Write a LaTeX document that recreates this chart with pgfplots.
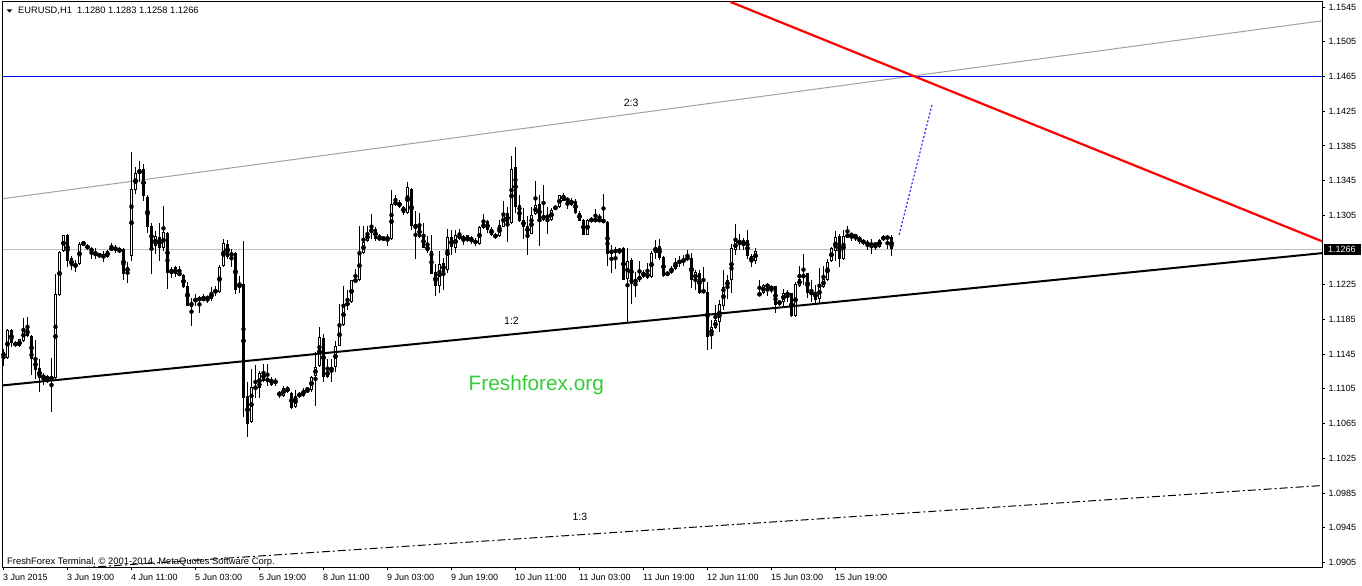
\documentclass[border=0pt]{standalone}
\usepackage{pgfplots}
\pgfplotsset{compat=1.18}
\usepackage{pgfplotstable}
\usepackage{fontspec}
\setmainfont{Liberation Sans}

\definecolor{chgray}{RGB}{160,160,160}
\definecolor{bidline}{RGB}{192,192,192}
\definecolor{limegreen}{RGB}{50,205,50}

% EURUSD H1 bars, index 0 = 3 Jun 2015 03:00
\pgfplotstableread{
i o h l c
0 1.1148 1.1151 1.1132 1.1141
1 1.1141 1.1174 1.1139 1.1173
2 1.1173 1.1174 1.1153 1.1158
3 1.1157 1.1160 1.1153 1.1156
4 1.1154 1.1163 1.1153 1.1162
5 1.1160 1.1187 1.1159 1.1174
6 1.1175 1.1188 1.1165 1.1166
7 1.1166 1.1167 1.1121 1.1139
8 1.1139 1.1162 1.1117 1.1127
9 1.1129 1.1140 1.1102 1.1118
10 1.1118 1.1123 1.1110 1.1120
11 1.1120 1.1121 1.1112 1.1115
12 1.1115 1.1141 1.1078 1.1120
13 1.1117 1.1237 1.1116 1.1214
14 1.1213 1.1264 1.1212 1.1263
15 1.1264 1.1283 1.1263 1.1282
16 1.1283 1.1284 1.1246 1.1253
17 1.1256 1.1258 1.1242 1.1247
18 1.1246 1.1254 1.1240 1.1249
19 1.1249 1.1274 1.1248 1.1272
20 1.1272 1.1276 1.1270 1.1273
21 1.1271 1.1272 1.1265 1.1266
22 1.1267 1.1269 1.1255 1.1263
23 1.1263 1.1268 1.1255 1.1258
24 1.1260 1.1262 1.1256 1.1258
25 1.1260 1.1264 1.1251 1.1257
26 1.1257 1.1265 1.1256 1.1264
27 1.1265 1.1273 1.1264 1.1268
28 1.1268 1.1271 1.1262 1.1265
29 1.1265 1.1268 1.1262 1.1264
30 1.1266 1.1267 1.1231 1.1237
31 1.1239 1.1251 1.1227 1.1246
32 1.1258 1.1378 1.1252 1.1335
33 1.1334 1.1361 1.1330 1.1354
34 1.1354 1.1368 1.1344 1.1356
35 1.1358 1.1364 1.1321 1.1327
36 1.1326 1.1329 1.1285 1.1292
37 1.1293 1.1296 1.1237 1.1269
38 1.1270 1.1287 1.1260 1.1281
39 1.1280 1.1296 1.1253 1.1267
40 1.1267 1.1316 1.1264 1.1286
41 1.1285 1.1286 1.1220 1.1239
42 1.1239 1.1246 1.1233 1.1243
43 1.1245 1.1247 1.1234 1.1237
44 1.1239 1.1247 1.1235 1.1236
45 1.1236 1.1237 1.1221 1.1222
46 1.1224 1.1228 1.1200 1.1201
47 1.1200 1.1210 1.1178 1.1205
48 1.1206 1.1214 1.1200 1.1209
49 1.1208 1.1212 1.1193 1.1209
50 1.1207 1.1214 1.1206 1.1210
51 1.1211 1.1212 1.1204 1.1209
52 1.1209 1.1223 1.1206 1.1216
53 1.1216 1.1223 1.1212 1.1219
54 1.1217 1.1248 1.1216 1.1246
55 1.1247 1.1278 1.1246 1.1273
56 1.1272 1.1277 1.1255 1.1257
57 1.1258 1.1266 1.1245 1.1262
58 1.1262 1.1263 1.1215 1.1219
59 1.1221 1.1235 1.1216 1.1227
60 1.1226 1.1275 1.1073 1.1095
61 1.1097 1.1113 1.1049 1.1065
62 1.1067 1.1128 1.1066 1.1107
63 1.1106 1.1132 1.1094 1.1107
64 1.1106 1.1126 1.1094 1.1123
65 1.1125 1.1134 1.1113 1.1114
66 1.1116 1.1134 1.1109 1.1115
67 1.1117 1.1119 1.1109 1.1110
68 1.1111 1.1118 1.1109 1.1115
69 1.1102 1.1103 1.1094 1.1097
70 1.1097 1.1108 1.1096 1.1106
71 1.1107 1.1109 1.1100 1.1101
72 1.1100 1.1101 1.1082 1.1083
73 1.1084 1.1104 1.1083 1.1097
74 1.1096 1.1102 1.1095 1.1100
75 1.1097 1.1106 1.1096 1.1104
76 1.1104 1.1106 1.1100 1.1105
77 1.1104 1.1120 1.1102 1.1119
78 1.1120 1.1148 1.1085 1.1130
79 1.1131 1.1176 1.1130 1.1165
80 1.1164 1.1168 1.1113 1.1119
81 1.1119 1.1139 1.1118 1.1126
82 1.1126 1.1139 1.1113 1.1130
83 1.1130 1.1160 1.1125 1.1155
84 1.1155 1.1203 1.1154 1.1180
85 1.1179 1.1224 1.1178 1.1202
86 1.1201 1.1219 1.1196 1.1205
87 1.1205 1.1231 1.1204 1.1230
88 1.1228 1.1243 1.1227 1.1232
89 1.1231 1.1293 1.1230 1.1263
90 1.1262 1.1293 1.1261 1.1274
91 1.1275 1.1293 1.1274 1.1285
92 1.1285 1.1306 1.1278 1.1290
93 1.1289 1.1292 1.1276 1.1278
94 1.1278 1.1284 1.1276 1.1279
95 1.1278 1.1280 1.1276 1.1279
96 1.1279 1.1284 1.1270 1.1278
97 1.1278 1.1334 1.1277 1.1318
98 1.1317 1.1329 1.1316 1.1321
99 1.1320 1.1323 1.1313 1.1315
100 1.1315 1.1316 1.1306 1.1308
101 1.1308 1.1344 1.1307 1.1338
102 1.1336 1.1337 1.1288 1.1293
103 1.1295 1.1310 1.1255 1.1289
104 1.1292 1.1308 1.1279 1.1280
105 1.1282 1.1296 1.1267 1.1268
106 1.1270 1.1281 1.1262 1.1264
107 1.1264 1.1283 1.1237 1.1238
108 1.1240 1.1249 1.1212 1.1224
109 1.1224 1.1264 1.1215 1.1249
110 1.1250 1.1256 1.1219 1.1240
111 1.1242 1.1289 1.1239 1.1280
112 1.1280 1.1288 1.1259 1.1268
113 1.1267 1.1288 1.1262 1.1283
114 1.1283 1.1289 1.1277 1.1278
115 1.1281 1.1283 1.1271 1.1275
116 1.1275 1.1283 1.1274 1.1282
117 1.1280 1.1281 1.1272 1.1274
118 1.1277 1.1279 1.1270 1.1272
119 1.1272 1.1293 1.1271 1.1292
120 1.1290 1.1307 1.1289 1.1296
121 1.1298 1.1300 1.1285 1.1288
122 1.1289 1.1292 1.1281 1.1283
123 1.1283 1.1285 1.1278 1.1279
124 1.1281 1.1300 1.1280 1.1294
125 1.1292 1.1321 1.1291 1.1307
126 1.1308 1.1315 1.1274 1.1296
127 1.1296 1.1373 1.1295 1.1359
128 1.1361 1.1384 1.1308 1.1315
129 1.1317 1.1329 1.1297 1.1298
130 1.1300 1.1313 1.1278 1.1292
131 1.1293 1.1304 1.1259 1.1284
132 1.1284 1.1315 1.1283 1.1305
133 1.1306 1.1344 1.1305 1.1317
134 1.1318 1.1329 1.1270 1.1300
135 1.1300 1.1340 1.1299 1.1305
136 1.1302 1.1315 1.1284 1.1305
137 1.1300 1.1313 1.1299 1.1311
138 1.1312 1.1317 1.1311 1.1315
139 1.1315 1.1329 1.1314 1.1328
140 1.1329 1.1331 1.1321 1.1322
141 1.1322 1.1325 1.1312 1.1324
142 1.1317 1.1325 1.1316 1.1323
143 1.1322 1.1324 1.1307 1.1308
144 1.1308 1.1310 1.1298 1.1299
145 1.1300 1.1301 1.1282 1.1283
146 1.1283 1.1301 1.1282 1.1300
147 1.1299 1.1303 1.1297 1.1300
148 1.1299 1.1312 1.1297 1.1300
149 1.1300 1.1307 1.1298 1.1299
150 1.1300 1.1330 1.1296 1.1297
151 1.1297 1.1298 1.1247 1.1260
152 1.1261 1.1271 1.1239 1.1265
153 1.1265 1.1268 1.1243 1.1263
154 1.1265 1.1266 1.1261 1.1264
155 1.1267 1.1268 1.1230 1.1231
156 1.1232 1.1267 1.1182 1.1252
157 1.1254 1.1256 1.1203 1.1226
158 1.1226 1.1240 1.1211 1.1232
159 1.1230 1.1253 1.1228 1.1235
160 1.1234 1.1242 1.1233 1.1240
161 1.1239 1.1250 1.1232 1.1233
162 1.1234 1.1264 1.1233 1.1262
163 1.1262 1.1277 1.1255 1.1268
164 1.1270 1.1278 1.1254 1.1256
165 1.1257 1.1258 1.1234 1.1235
166 1.1238 1.1240 1.1236 1.1237
167 1.1239 1.1247 1.1238 1.1244
168 1.1243 1.1256 1.1242 1.1251
169 1.1250 1.1258 1.1245 1.1253
170 1.1252 1.1259 1.1247 1.1254
171 1.1255 1.1265 1.1252 1.1256
172 1.1256 1.1262 1.1221 1.1230
173 1.1230 1.1242 1.1219 1.1240
174 1.1239 1.1242 1.1214 1.1216
175 1.1217 1.1245 1.1216 1.1218
176 1.1217 1.1228 1.1150 1.1165
177 1.1166 1.1185 1.1151 1.1176
178 1.1175 1.1202 1.1174 1.1184
179 1.1182 1.1208 1.1171 1.1203
180 1.1201 1.1242 1.1196 1.1222
181 1.1223 1.1236 1.1209 1.1230
182 1.1230 1.1272 1.1216 1.1267
183 1.1265 1.1295 1.1259 1.1275
184 1.1277 1.1284 1.1265 1.1271
185 1.1270 1.1279 1.1265 1.1277
186 1.1276 1.1288 1.1255 1.1258
187 1.1258 1.1260 1.1246 1.1252
188 1.1253 1.1268 1.1249 1.1264
189 1.1215 1.1231 1.1212 1.1213
190 1.1215 1.1226 1.1214 1.1225
191 1.1226 1.1227 1.1212 1.1222
192 1.1222 1.1224 1.1215 1.1221
193 1.1223 1.1224 1.1193 1.1202
194 1.1203 1.1208 1.1201 1.1206
195 1.1205 1.1220 1.1201 1.1216
196 1.1217 1.1219 1.1205 1.1212
197 1.1215 1.1216 1.1188 1.1189
198 1.1189 1.1228 1.1188 1.1226
199 1.1224 1.1247 1.1223 1.1232
200 1.1233 1.1260 1.1225 1.1237
201 1.1238 1.1239 1.1210 1.1215
202 1.1215 1.1231 1.1205 1.1216
203 1.1217 1.1225 1.1203 1.1208
204 1.1209 1.1244 1.1204 1.1224
205 1.1222 1.1247 1.1221 1.1232
206 1.1231 1.1255 1.1230 1.1251
207 1.1252 1.1268 1.1251 1.1267
208 1.1264 1.1287 1.1252 1.1280
209 1.1281 1.1284 1.1246 1.1255
210 1.1255 1.1288 1.1254 1.1281
211 1.1282 1.1293 1.1280 1.1281
212 1.1281 1.1285 1.1276 1.1284
213 1.1282 1.1284 1.1275 1.1280
214 1.1280 1.1281 1.1272 1.1275
215 1.1275 1.1278 1.1271 1.1274
216 1.1273 1.1277 1.1265 1.1272
217 1.1272 1.1278 1.1261 1.1271
218 1.1271 1.1274 1.1265 1.1272
219 1.1269 1.1278 1.1268 1.1277
220 1.1278 1.1282 1.1275 1.1280
221 1.1279 1.1280 1.1266 1.1280
222 1.1280 1.1283 1.1258 1.1266
}\eurusd

\begin{document}
\begin{tikzpicture}
\path[use as bounding box] (0,0) rectangle (1362bp,586bp);
\begin{axis}[
  at={(2.5bp,18.5bp)}, anchor=south west,
  scale only axis, width=1320bp, height=566bp,
  xmin=-0.25, xmax=329.75, ymin=1.08992, ymax=1.15514,
  axis line style={black, line width=1bp},
  tick align=outside, major tick length=3bp,
  tick style={black, line width=1bp},
  xtick pos=bottom, ytick pos=right,
  xtick={0,16,...,208},
  xticklabels={3 Jun 2015,3 Jun 19:00,4 Jun 11:00,5 Jun 03:00,5 Jun 19:00,8 Jun 11:00,9 Jun 03:00,9 Jun 19:00,10 Jun 11:00,11 Jun 03:00,11 Jun 19:00,12 Jun 11:00,15 Jun 03:00,15 Jun 19:00},
  xticklabel style={anchor=north west, inner sep=0pt, yshift=-4bp, xshift=-0.5bp, font=\fontsize{9bp}{10bp}\selectfont},
  ytick={1.0905,1.0945,1.0985,1.1025,1.1065,1.1105,1.1145,1.1185,1.1225,1.1305,1.1345,1.1385,1.1425,1.1465,1.1505,1.1545},
  yticklabel pos=right,
  scaled y ticks=false,
  yticklabel style={anchor=west, inner sep=0pt, xshift=3bp, font=\fontsize{9bp}{10bp}\selectfont,
    /pgf/number format/.cd, fixed, fixed zerofill, precision=4, assume math mode=true},
]
% background lines
\addplot[bidline, line width=1bp] coordinates {(-0.25,1.1266) (329.75,1.1266)};
\addplot[chgray, line width=1bp] coordinates {(-0.25,1.13241) (329.75,1.15292)};
\addplot[blue, line width=1bp] coordinates {(-0.25,1.1465) (329.75,1.1465)};
% wicks
\addplot[only marks, mark=none, error bars/.cd, y dir=both, y explicit, error mark=none,
  error bar style={black, line width=1bp}]
  table[x=i, y expr={(\thisrow{h}+\thisrow{l})/2}, y error expr={(\thisrow{h}-\thisrow{l})/2}] {\eurusd};
% bodies
\addplot[only marks, mark=none, error bars/.cd, y dir=both, y explicit, error mark=none,
  error bar style={black, line width=3bp}]
  table[x=i, y expr={(\thisrow{o}+\thisrow{c})/2}, y error expr={max(abs(\thisrow{o}-\thisrow{c})/2,0.00005)}] {\eurusd};
% hollow inside of bull candles (bear candles get zero length)
\addplot[only marks, mark=none, error bars/.cd, y dir=both, y explicit, error mark=none,
  error bar style={white, line width=1bp}]
  table[x=i, y expr={(\thisrow{o}+\thisrow{c})/2},
    y error expr={max((\thisrow{c}-\thisrow{o})/2-0.000115,0)}] {\eurusd};
% trend lines
\addplot[black, line width=2bp] coordinates {(-0.25,1.11090) (329.75,1.12615)};
\addplot[black, line width=1bp, dash pattern=on 8bp off 3bp on 2bp off 3bp] coordinates {(19.7,1.08989) (329.75,1.09937)};
\addplot[red, line width=2.2bp] coordinates {(181.7,1.1551) (329.75,1.12749)};
\addplot[blue, line width=1bp, dash pattern=on 2bp off 2bp] coordinates {(223.9,1.12826) (232.2,1.14336)};
\node[font=\fontsize{10.5bp}{12bp}\selectfont] at (axis cs:156.9,1.14347) {2:3};
\node[font=\fontsize{10.5bp}{12bp}\selectfont] at (axis cs:127.0,1.11835) {1:2};
\node[font=\fontsize{10.5bp}{12bp}\selectfont] at (axis cs:144.1,1.09572) {1:3};
\node[font=\fontsize{20.8bp}{24bp}\selectfont, text=limegreen, anchor=base west, inner sep=0pt]
  at (axis cs:116.25,1.11032) {Freshforex.org};
\end{axis}
% header and footer texts
\fill[black] (6.7bp,576.7bp) -- (12.3bp,576.7bp) -- (9.5bp,573.3bp) -- cycle;
\node[anchor=base west, inner sep=0pt, font=\fontsize{9.3bp}{10bp}\selectfont] at (18bp,572bp)
  {EURUSD,H1\ \ 1.1280 1.1283 1.1258 1.1266};
\node[anchor=base west, inner sep=0pt, font=\fontsize{9.4bp}{10bp}\selectfont] at (7bp,22bp)
  {FreshForex Terminal, \copyright{} 2001-2014, MetaQuotes Software Corp.};
\fill[black] (1323.5bp,331bp) rectangle (1361bp,342.4bp);
\node[anchor=west, inner sep=0pt, text=white, font=\fontsize{9bp}{10bp}\selectfont] at (1328bp,336.8bp) {1.1266};
\end{tikzpicture}
\end{document}
